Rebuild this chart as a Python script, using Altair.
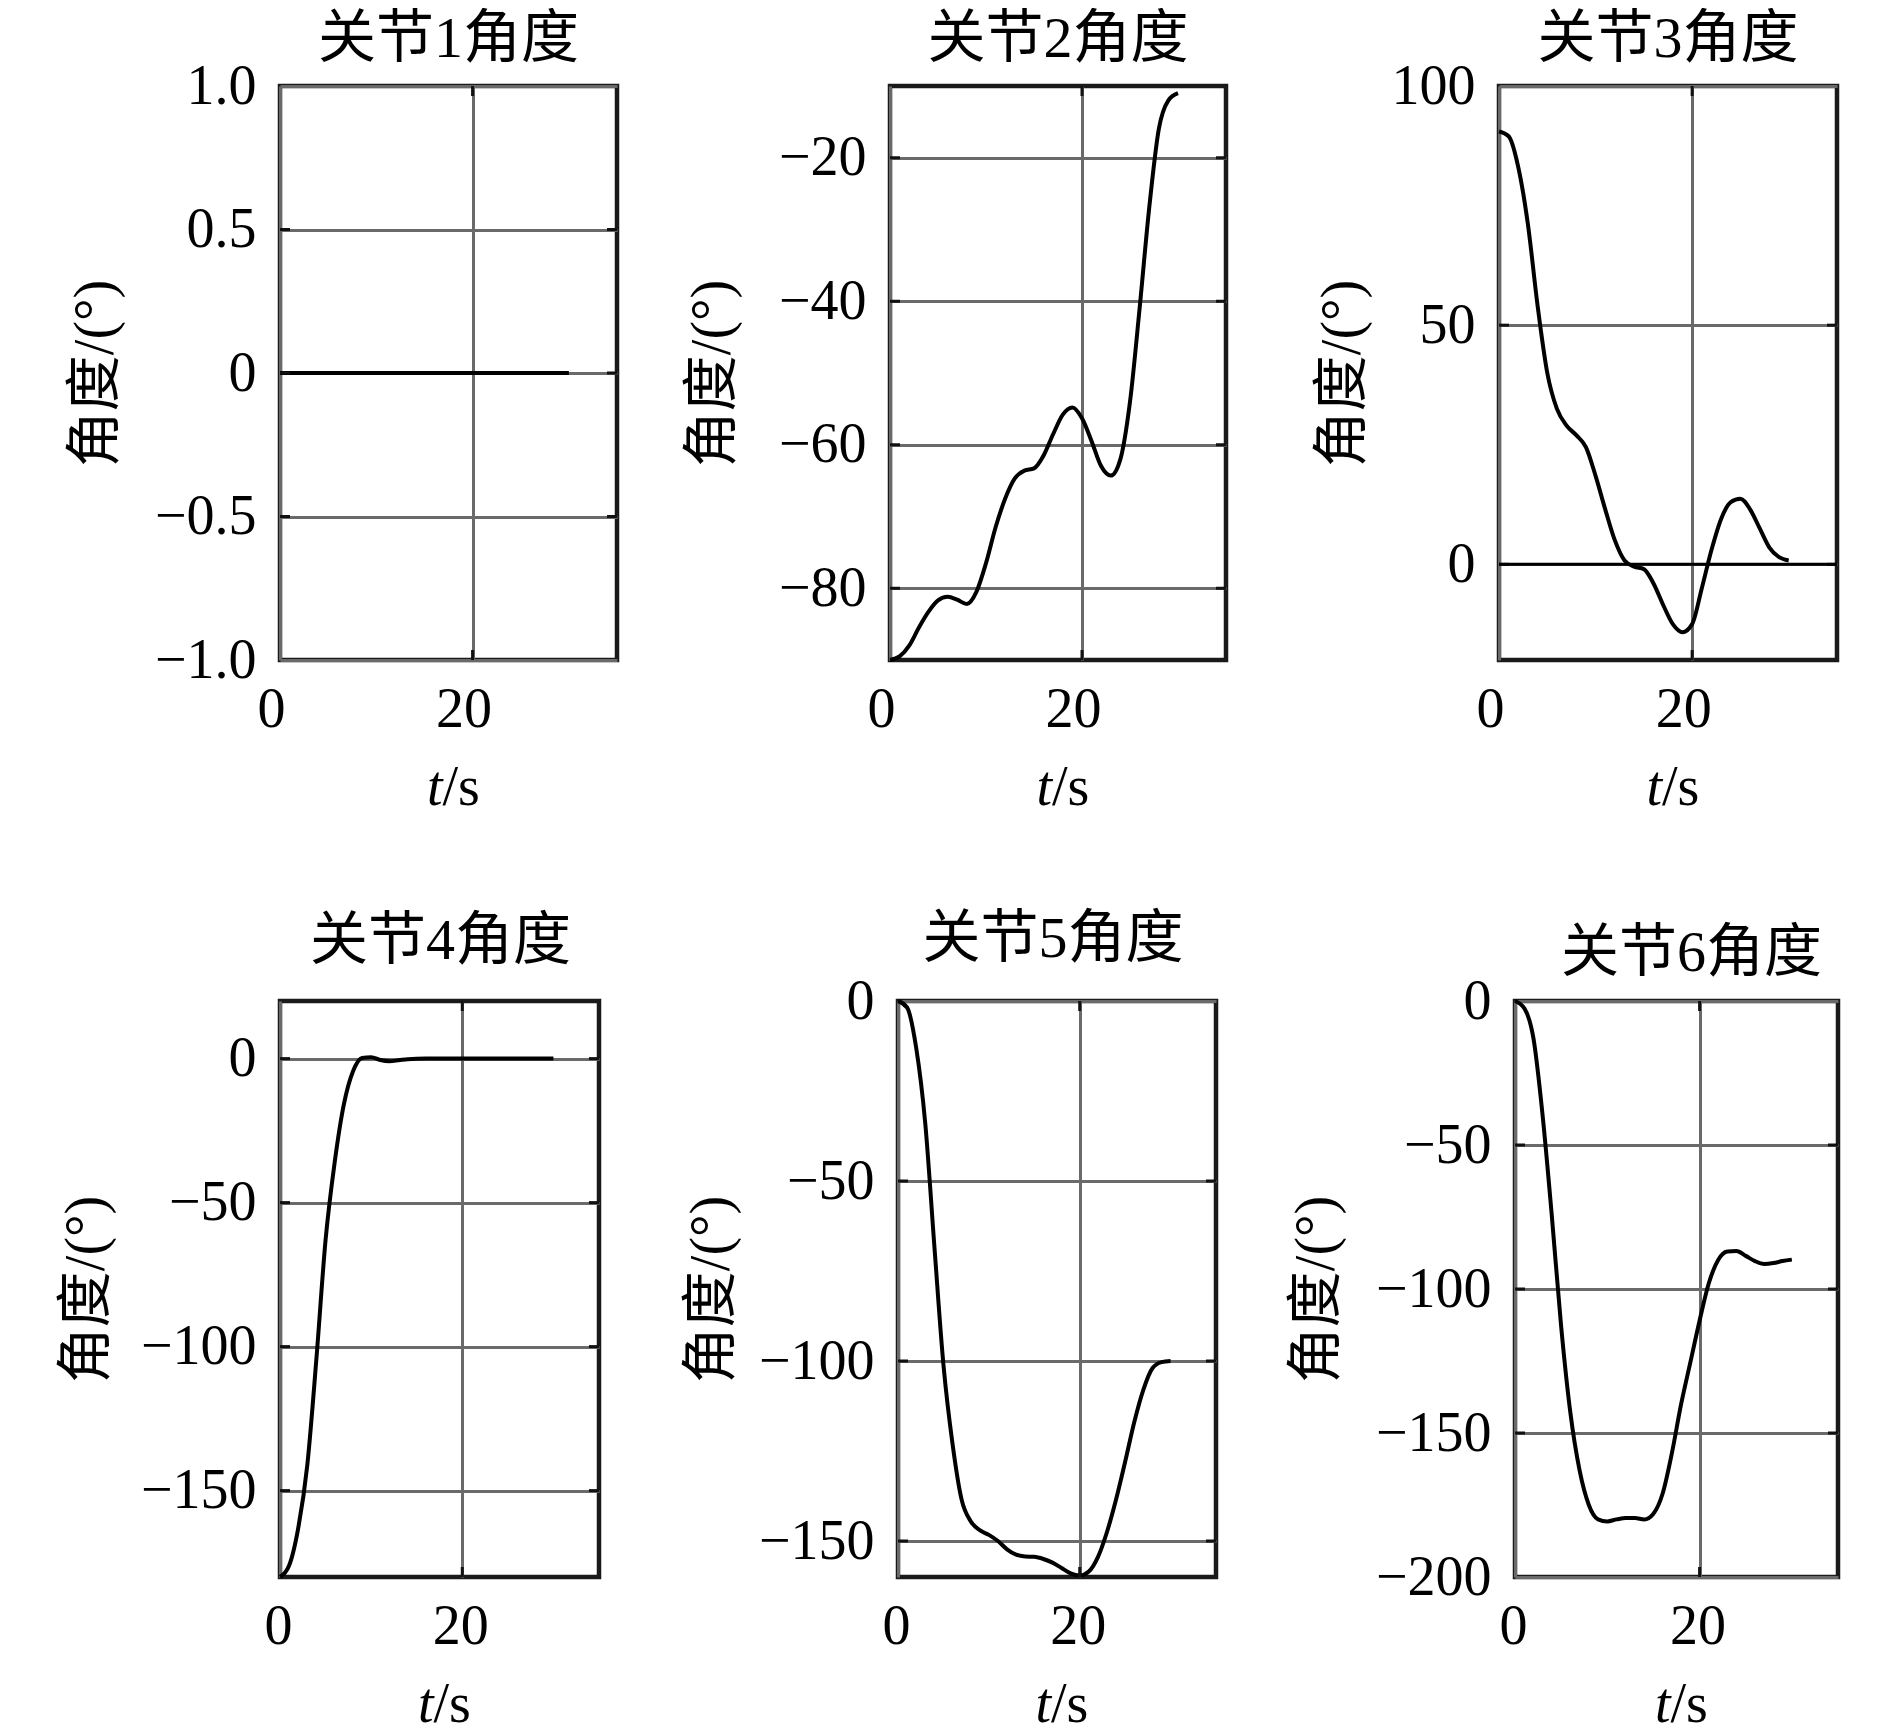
import altair as alt
import pandas as pd

FONT = "Liberation Serif, Times New Roman, Noto Sans CJK SC"

# ---------------- data ----------------
titles = ["关节1角度", "关节2角度", "关节3角度", "关节4角度", "关节5角度", "关节6角度"]
y_title = "角度/(°)"
x_title_t = ["t"]
x_title_rest = ["/s"]
x_ticks = [0, 20]

t1 = [0, 30]
v1 = [0, 0]

t2 = list(range(31))
v2 = [-90, -89.5, -88, -85.5, -83.3, -81.7, -81.2, -81.6, -82.2, -80.5, -76.5,
      -71.5, -67.5, -64.7, -63.6, -63.3, -61.5, -58.5, -55.8, -54.8, -56.3,
      -59.5, -63, -64.3, -62, -54, -41, -27, -16, -12, -11]

t3 = list(range(31))
v3 = [90.5, 89.5, 83, 71, 54, 40, 32.5, 29, 27, 24.5, 18.5, 11.5, 5, 0.8, -0.5,
      -1, -4, -8.5, -12.5, -14.2, -12.5, -5, 3, 9.5, 13, 13.7, 11.5, 7.5, 3.5,
      1.5, 0.8]

t4 = [0, 1, 2, 3, 4, 5, 6, 7, 8, 9, 10, 11, 12, 13, 14, 16, 20, 25, 30]
v4 = [-180, -176, -163, -141, -104, -63, -36, -16, -4.5, 0.2, 0.5, -0.5, -0.9,
      -0.6, -0.2, 0, 0, 0, 0]

t5 = list(range(31))
v5 = [0, -1.8, -13, -34, -68, -101, -123, -138.5, -144.5, -147, -148.3, -150,
      -152.3, -153.8, -154.3, -154.4, -155, -156, -157.5, -159, -159.6, -158.5,
      -154.5, -147.5, -138.5, -128, -117, -108, -102, -100.3, -100]

t6 = list(range(31))
v6 = [0, -2.5, -13, -40, -75, -113, -143, -163, -175, -180, -180.7, -180,
      -179.5, -179.5, -180, -178, -171, -157, -140, -125.5, -111, -98, -90, -87,
      -86.8, -88.5, -90.3, -91.3, -91, -90.3, -89.8]

y_domains = [[-1, 1], [-90, -10], [-20, 100], [-180, 20], [-160, 0], [-200, 0]]
y_ticks = [[-1, -0.5, 0, 0.5, 1], [-80, -60, -40, -20], [0, 50, 100],
           [-150, -100, -50, 0], [-150, -100, -50, 0], [-200, -150, -100, -50, 0]]

# ---------------- layout / style ----------------
sizes = [(337, 574), (336, 574), (338, 574), (319, 576), (318, 576), (323, 576)]
ytitle_off = [185, 178, 157, 194, 187, 199]
title_up = [46, 46, 46, 59, 61, 47]
title_dx = [0, 0, 0, 1, -4, 15]
xlab_off = [-9, -9, -9, -2, -2, -2]

series = [(t1, v1), (t2, v2), (t3, v3), (t4, v4), (t5, v5), (t6, v6)]


def panel(i):
    t, v = series[i]
    w, h = sizes[i]
    df = pd.DataFrame({"t": t, "v": v})
    dom = y_domains[i]
    yt = y_ticks[i]
    label_expr = ("datum.value == 0 ? '0' : format(datum.value, '.1f')"
                  if i == 0 else "format(datum.value, 'd')")
    X = alt.X("t:Q", scale=alt.Scale(domain=[0, 35], nice=False, zero=False),
              axis=alt.Axis(values=x_ticks, title=None, labelOffset=xlab_off[i],
                            labelPadding=22, labelBaseline="top"))
    Y = alt.Y("v:Q", scale=alt.Scale(domain=dom, nice=False, zero=False),
              axis=alt.Axis(values=yt, title=y_title, labelExpr=label_expr,
                            labelPadding=24, labelBaseline="middle",
                            titleX=-ytitle_off[i], titleY=h / 2,
                            titleAngle=-90, titleAlign="center",
                            titleBaseline="middle"))

    line = alt.Chart(df).mark_line(color="black", strokeWidth=4,
                                   interpolate="monotone").encode(x=X, y=Y)
    layers = []

    inner = [val for val in yt if dom[0] < val < dom[1]]
    tdf = pd.DataFrame({"v": inner})
    ticks_l = alt.Chart(tdf).mark_rule(color="#111", strokeWidth=3).encode(
        y="v:Q", x=alt.value(0), x2=alt.value(10))
    ticks_r = alt.Chart(tdf).mark_rule(color="#111", strokeWidth=3).encode(
        y="v:Q", x=alt.value(w - 10), x2=alt.value(w))
    xdf = pd.DataFrame({"t": [20]})
    ticks_b = alt.Chart(xdf).mark_rule(color="#111", strokeWidth=3).encode(
        x="t:Q", y=alt.value(h - 10), y2=alt.value(h))
    ticks_t = alt.Chart(xdf).mark_rule(color="#111", strokeWidth=3).encode(
        x="t:Q", y=alt.value(0), y2=alt.value(10))
    layers += [ticks_l, ticks_r, ticks_b, ticks_t]

    if i == 2:
        zero = alt.Chart(pd.DataFrame({"v": [0]})).mark_rule(
            color="black", strokeWidth=3).encode(y="v:Q")
        layers.append(zero)

    tt = alt.Chart(pd.DataFrame({"s": x_title_t})).mark_text(
        font=FONT, fontSize=56, fontStyle="italic", align="right",
        baseline="middle", color="black").encode(
        text="s:N", x=alt.value(w / 2 - 6), y=alt.value(h + 128))
    ts = alt.Chart(pd.DataFrame({"s": x_title_rest})).mark_text(
        font=FONT, fontSize=56, align="left", baseline="middle",
        color="black").encode(
        text="s:N", x=alt.value(w / 2 - 6), y=alt.value(h + 128))
    ttl = alt.Chart(pd.DataFrame({"s": [titles[i]]})).mark_text(
        font=FONT, fontSize=58, align="center", baseline="middle",
        color="black").encode(
        text="s:N", x=alt.value(w / 2 + title_dx[i]), y=alt.value(-title_up[i]))
    layers += [tt, ts, ttl]

    return alt.layer(line, *layers).properties(width=w, height=h)


row1 = alt.hconcat(panel(0), panel(1), panel(2), spacing=273, bounds="flush")
row2 = alt.hconcat(panel(3), panel(4), panel(5), spacing=299, bounds="flush")

chart = alt.vconcat(row1, row2, spacing=915, bounds="flush").configure_view(
    stroke="#1a1a1a", strokeWidth=4.5
).configure_axis(
    labelFont=FONT, labelFontSize=56, labelColor="black",
    titleFont=FONT, titleFontSize=56, titleColor="black", titleFontWeight="normal",
    gridColor="#6a6a6a", gridWidth=3, gridOpacity=1,
    domain=False, ticks=False, labelFlush=False, labelOverlap=False,
).properties(background="white",
             padding={"left": 47, "top": 0, "right": 5, "bottom": 0})

chart.save("out.html", embed_options={"renderer": "svg", "actions": False})
